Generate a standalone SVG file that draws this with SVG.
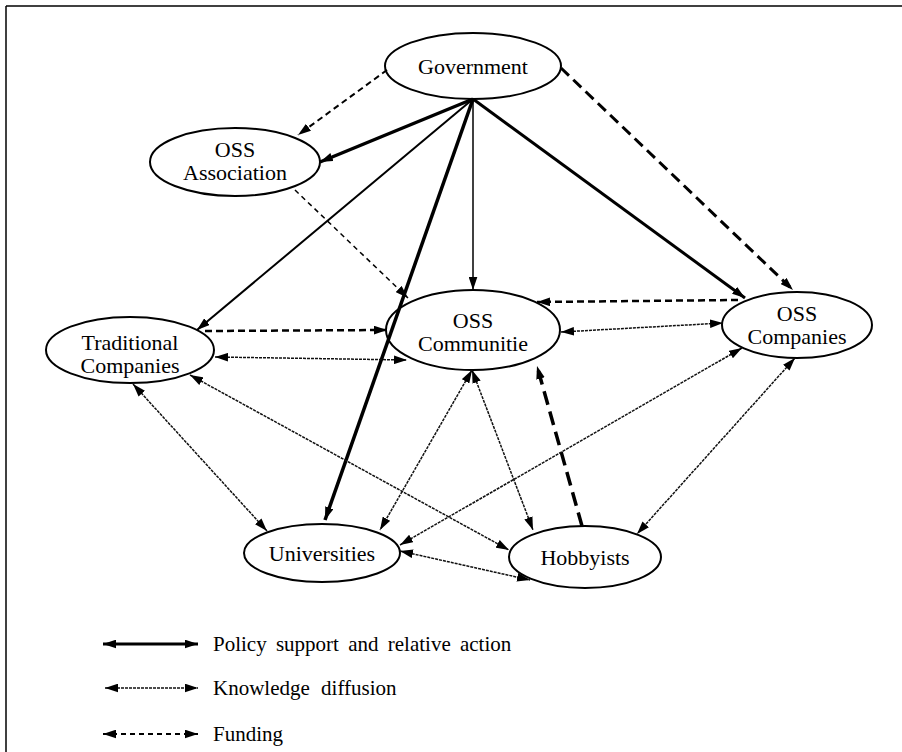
<svg xmlns="http://www.w3.org/2000/svg" width="902" height="752" viewBox="0 0 902 752">
<defs>
<marker id="ah" viewBox="0 0 12 8" refX="12" refY="4" markerWidth="13" markerHeight="9" markerUnits="userSpaceOnUse" orient="auto-start-reverse">
<path d="M0,0 L12,4 L0,8 z" fill="#000"/>
</marker>
</defs>
<style>
.node ellipse{fill:#fff;stroke:#000;stroke-width:2}
.node text{font-family:"Liberation Serif","Times New Roman",serif;font-size:22px;fill:#000;text-anchor:middle}
.pol{fill:none;stroke:#000;marker-end:url(#ah)}
.fund{fill:none;stroke:#000;marker-end:url(#ah)}
.kn{fill:none;stroke:#111;stroke-width:1.5;stroke-dasharray:3 1;marker-start:url(#ah);marker-end:url(#ah)}
.leg{font-family:"Liberation Serif","Times New Roman",serif;font-size:21px;fill:#000}
</style>
<rect width="902" height="752" fill="#fff"/>
<g id="frame" stroke="#000" stroke-width="1.5">
<line x1="6" y1="6" x2="902" y2="6"/>
<line x1="6" y1="6" x2="6" y2="752"/>
</g>
<g id="n-government" class="node"><ellipse cx="473" cy="66" rx="88" ry="33"/><text x="473" y="74">Government</text></g>
<g id="n-oss-association" class="node"><ellipse cx="235" cy="162" rx="85" ry="34"/><text x="235" y="157">OSS</text><text x="235" y="180">Association</text></g>
<g id="n-traditional" class="node"><ellipse cx="130" cy="350" rx="84" ry="33"/><text x="130" y="350">Traditional</text><text x="130" y="373">Companies</text></g>
<g id="n-oss-communitie" class="node"><ellipse cx="473" cy="330" rx="87" ry="40"/><text x="473" y="328">OSS</text><text x="473" y="351">Communitie</text></g>
<g id="n-oss-companies" class="node"><ellipse cx="797" cy="325" rx="75" ry="33"/><text x="797" y="321">OSS</text><text x="797" y="344">Companies</text></g>
<g id="n-universities" class="node"><ellipse cx="322" cy="553" rx="78" ry="29"/><text x="322" y="561">Universities</text></g>
<g id="n-hobbyists" class="node"><ellipse cx="585" cy="557" rx="76" ry="31"/><text x="585" y="565">Hobbyists</text></g>
<g id="connectors">
<line class="pol" x1="473" y1="99" x2="320" y2="162" stroke-width="3.5"/>
<line class="pol" x1="473" y1="99" x2="197" y2="330" stroke-width="2"/>
<line class="pol" x1="473" y1="99" x2="325" y2="520" stroke-width="3.5"/>
<line class="pol" x1="473" y1="99" x2="473" y2="290" stroke-width="1.5"/>
<line class="pol" x1="473" y1="99" x2="745" y2="298" stroke-width="3"/>
<line class="fund" x1="387" y1="70" x2="298" y2="135" stroke-width="2" stroke-dasharray="6 4"/>
<line class="fund" x1="561" y1="68" x2="793" y2="290" stroke-width="3" stroke-dasharray="11 6"/>
<line class="fund" x1="295" y1="190" x2="408" y2="298" stroke-width="1.5" stroke-dasharray="5 4"/>
<line class="fund" x1="205" y1="331" x2="387" y2="330" stroke-width="2.5" stroke-dasharray="7 4"/>
<line class="fund" x1="738" y1="300" x2="537" y2="302" stroke-width="2.5" stroke-dasharray="7 4"/>
<line class="fund" x1="582" y1="526" x2="537" y2="366" stroke-width="3.5" stroke-dasharray="14 7"/>
<line class="kn" x1="215" y1="357" x2="407" y2="360"/>
<line class="kn" x1="561" y1="332" x2="723" y2="323"/>
<line class="kn" x1="133" y1="384" x2="267" y2="531"/>
<line class="kn" x1="190" y1="375" x2="509" y2="550"/>
<line class="kn" x1="472" y1="370" x2="380" y2="530"/>
<line class="kn" x1="742" y1="348" x2="400" y2="545"/>
<line class="kn" x1="400" y1="551" x2="530" y2="580"/>
<line class="kn" x1="795" y1="358" x2="637" y2="534"/>
<line class="kn" x1="472" y1="370" x2="533" y2="530" stroke-width="3" stroke-dasharray="2 3" stroke="#000"/>
</g>
<g id="legend">
<line x1="103" y1="644" x2="198" y2="644" stroke="#000" stroke-width="3" marker-start="url(#ah)" marker-end="url(#ah)"/>
<line x1="105" y1="688" x2="198" y2="688" stroke="#111" stroke-width="1.5" stroke-dasharray="3 1" marker-start="url(#ah)" marker-end="url(#ah)"/>
<line x1="103" y1="734" x2="198" y2="734" stroke="#000" stroke-width="2" stroke-dasharray="5 4" marker-start="url(#ah)" marker-end="url(#ah)"/>
<text class="leg" x="213" y="651" word-spacing="4">Policy support and relative action</text>
<text class="leg" x="213" y="695" word-spacing="6">Knowledge diffusion</text>
<text class="leg" x="213" y="741">Funding</text>
</g>
</svg>
